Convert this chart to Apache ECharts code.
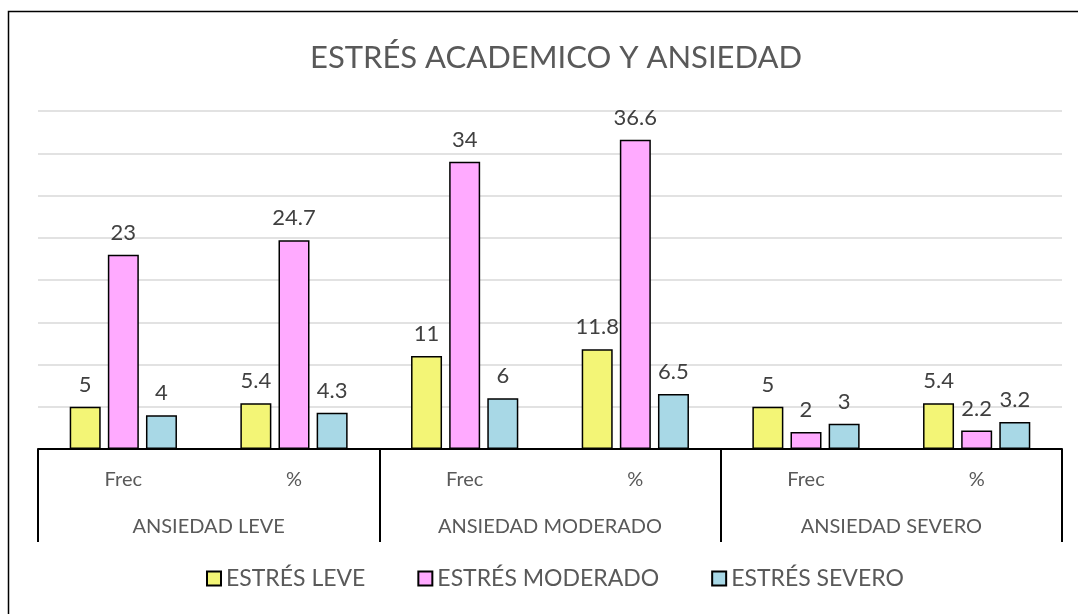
<!DOCTYPE html>
<html>
<head>
<meta charset="utf-8">
<script src="https://cdn.jsdelivr.net/npm/echarts@6/dist/echarts.min.js"></script>
<style>
html, body { margin: 0; padding: 0; background: #fff; }
#myChart { width: 1078px; height: 614px; }
</style>
</head>
<body>
<div id="myChart"></div>
<script>
// data
var subCategories = ['Frec', '%', 'Frec', '%', 'Frec', '%'];
var groups = ['ANSIEDAD LEVE', 'ANSIEDAD MODERADO', 'ANSIEDAD SEVERO'];
var estresLeve = [5, 5.4, 11, 11.8, 5, 5.4];
var estresModerado = [23, 24.7, 34, 36.6, 2, 2.2];
var estresSevero = [4, 4.3, 6, 6.5, 3, 3.2];

var font = 'Lato';
var textColor = '#595959';

var myChart = echarts.init(document.getElementById('myChart'));

function barSeries(name, data, color) {
	return {
		name: name,
		type: 'bar',
		data: data,
		barWidth: 31,
		barGap: '23%',
		itemStyle: {
			color: color,
			borderColor: '#000',
			borderWidth: 1.5
		},
		label: {
			show: true,
			position: 'top',
			distance: 11,
			color: '#404040',
			fontFamily: font,
			fontSize: 22
		}
	};
}

var option = {
	animation: false,
	backgroundColor: '#fff',
	title: {
		text: 'ESTRÉS ACADEMICO Y ANSIEDAD',
		left: 305,
		top: 37,
		textStyle: {
			color: textColor,
			fontFamily: font,
			fontWeight: 'normal',
			fontSize: 31
		}
	},
	legend: {
		bottom: 19,
		left: 201,
		icon: 'rect',
		itemWidth: 14,
		itemHeight: 14,
		itemGap: 52,
		textStyle: {
			color: textColor,
			fontFamily: font,
			fontSize: 23
		}
	},
	graphic: [{
		type: 'rect',
		shape: { x: 8.5, y: 11.5, width: 1200, height: 800 },
		style: { fill: 'none', stroke: '#000', lineWidth: 1.5 },
		silent: true
	}],
	grid: {
		left: 38,
		right: 16,
		top: 111,
		bottom: 165
	},
	xAxis: [
		{
			type: 'category',
			data: subCategories,
			position: 'bottom',
			axisLine: { show: true, lineStyle: { color: '#000', width: 2 } },
			axisTick: { show: false },
			axisLabel: {
				color: textColor,
				fontFamily: font,
				fontSize: 20,
				margin: 21
			}
		},
		{
			type: 'category',
			data: groups,
			position: 'bottom',
			axisLine: { show: false },
			axisTick: {
				show: true,
				length: 93,
				lineStyle: { color: '#000', width: 2 }
			},
			axisLabel: {
				color: textColor,
				fontFamily: font,
				fontSize: 20,
				margin: 68
			}
		}
	],
	yAxis: {
		type: 'value',
		min: 0,
		max: 40,
		interval: 5,
		axisLine: { show: false },
		axisTick: { show: false },
		axisLabel: { show: false },
		splitLine: { lineStyle: { color: '#d9d9d9', width: 1.5 } }
	},
	series: [
		barSeries('ESTRÉS LEVE', estresLeve, '#F3F576'),
		barSeries('ESTRÉS MODERADO', estresModerado, '#FFAAFF'),
		barSeries('ESTRÉS SEVERO', estresSevero, '#A8D8E6')
	]
};

myChart.setOption(option);
</script>
</body>
</html>
